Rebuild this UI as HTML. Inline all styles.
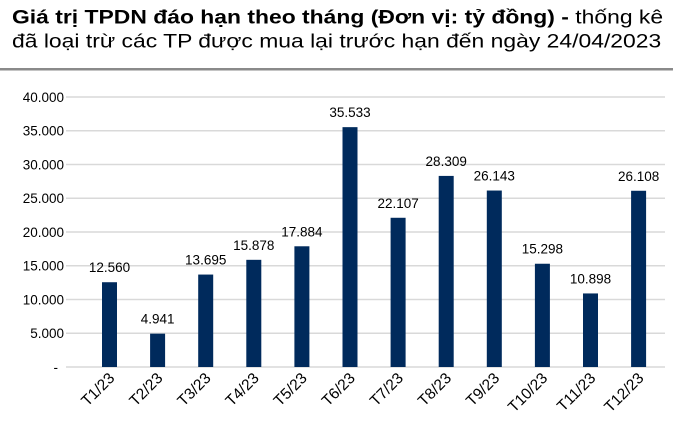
<!DOCTYPE html>
<html><head><meta charset="utf-8"><style>
body{margin:0;background:#fff;width:673px;height:445px;overflow:hidden;font-family:"Liberation Sans",sans-serif}
.t{position:absolute;left:12px;top:5px;font-size:21.5px;line-height:26px;color:#000;white-space:nowrap;transform:scale(1.065,0.92);transform-origin:0 0}
</style></head><body>
<div class="t"><b>Giá trị TPDN đáo hạn theo tháng (Đơn vị: tỷ đồng) -</b> thống kê<br>đã loại trừ các TP được mua lại trước hạn đến ngày 24/04/2023</div>
<svg width="673" height="445" style="position:absolute;left:0;top:0">
<rect x="0" y="68" width="673" height="2.5" fill="#8a8a8a"/>
<g stroke="#d9d9d9" stroke-width="1.5">
<line x1="66" x2="665" y1="97" y2="97"/><line x1="66" x2="665" y1="130.75" y2="130.75"/>
<line x1="66" x2="665" y1="164.5" y2="164.5"/><line x1="66" x2="665" y1="198.25" y2="198.25"/>
<line x1="66" x2="665" y1="232" y2="232"/><line x1="66" x2="665" y1="265.75" y2="265.75"/>
<line x1="66" x2="665" y1="299.5" y2="299.5"/><line x1="66" x2="665" y1="333.25" y2="333.25"/>
<line x1="66" x2="665" y1="367" y2="367"/>
</g>
<g font-size="13.5" fill="#000" text-anchor="end" font-family="Liberation Sans,sans-serif">
<text x="64" y="102">40.000</text><text x="64" y="135.5">35.000</text><text x="64" y="169.5">30.000</text>
<text x="64" y="203">25.000</text><text x="64" y="237">20.000</text><text x="64" y="270.5">15.000</text>
<text x="64" y="304.5">10.000</text><text x="64" y="338">5.000</text><text x="58" y="372">-</text>
</g>
<g id="bars"></g>
</svg>
<script>
var v=[12560,4941,13695,15878,17884,35533,22107,28309,26143,15298,10898,26108];
var lab=["12.560","4.941","13.695","15.878","17.884","35.533","22.107","28.309","26.143","15.298","10.898","26.108"];
var s='';
for(var i=0;i<12;i++){var cx=109.5+48.1*i;var h=v[i]*270/40000;var y=367-h;
s+='<rect x="'+(cx-7.5)+'" y="'+y+'" width="15" height="'+h+'" fill="#002a5c"/>';
s+='<text x="'+cx+'" y="'+(y-10)+'" font-size="13.5" text-anchor="middle" font-family="Liberation Sans,sans-serif">'+lab[i]+'</text>';
s+='<text transform="translate('+(cx+6)+',379) rotate(-45)" font-size="15.5" text-anchor="end" font-family="Liberation Sans,sans-serif">T'+(i+1)+'/23</text>';}
document.getElementById('bars').innerHTML=s;
</script>
</body></html>
